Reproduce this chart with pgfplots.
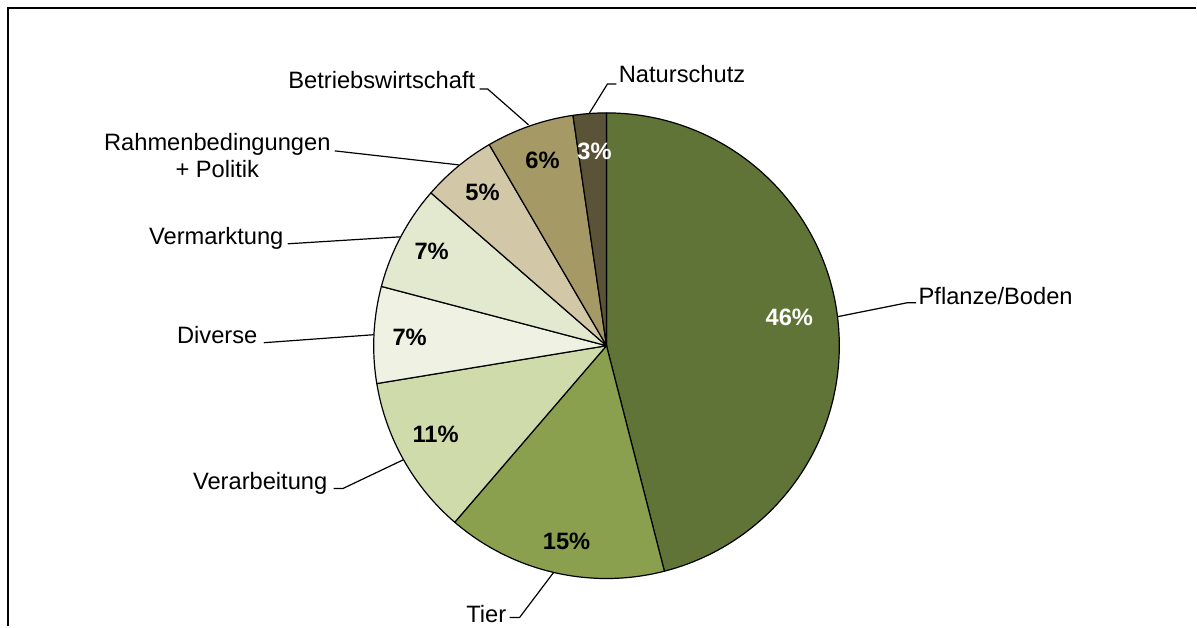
\documentclass[border=0pt]{standalone}
\usepackage{pgfplots}
\pgfplotsset{compat=1.18}
\usepackage{pgfplotstable}
\usepackage{fontspec}
\setmainfont{Liberation Sans}

\definecolor{slice0}{HTML}{5F7436}
\definecolor{slice1}{HTML}{8AA04E}
\definecolor{slice2}{HTML}{CFDBAB}
\definecolor{slice3}{HTML}{EFF1E3}
\definecolor{slice4}{HTML}{E2E9CF}
\definecolor{slice5}{HTML}{D2C8A8}
\definecolor{slice6}{HTML}{A59A66}
\definecolor{slice7}{HTML}{5B5337}

\newcommand\lbl{\fontsize{11.85}{14}\selectfont}
\newcommand\pct{\fontsize{11.85}{14}\selectfont\bfseries}

% category, share in percent (clockwise from 12 o'clock)
\pgfplotstableread{
name value
Pflanze/Boden 46.0
Tier 15.3
Verarbeitung 11.1
Diverse 6.7
Vermarktung 7.3
Rahmenbedingungen 5.2
Betriebswirtschaft 6.1
Naturschutz 2.3
}\piedata

\begin{document}
\begin{tikzpicture}
\pgfplotstablegetrowsof{\piedata}
\pgfmathtruncatemacro\N{\pgfplotsretval-1}
\gdef\cum{0}
\foreach \i in {0,...,\N}{
  \pgfplotstablegetelem{\i}{value}\of\piedata
  \let\v\pgfplotsretval
  \pgfmathsetmacro\sa{90-3.6*\cum}
  \pgfmathsetmacro\newcum{\cum+\v}
  \pgfmathsetmacro\ea{90-3.6*\newcum}
  \expandafter\xdef\csname sa\i\endcsname{\sa}
  \expandafter\xdef\csname ea\i\endcsname{\ea}
  \xdef\cum{\newcum}
}
\begin{axis}[x=0.5pt,y=0.5pt,xmin=0,xmax=1197,ymin=0,ymax=627,
  hide axis,clip=false]
\path (axis cs:0,0) rectangle (axis cs:1197,627);
% frame (top and left edges visible)
\draw[line width=1pt] (axis cs:8,0) -- (axis cs:8,619) -- (axis cs:1197,619);

\pgfplotsforeachungrouped \i in {0,...,7}{
  \edef\temp{\noexpand\filldraw[fill=slice\i,draw=black,line width=0.6pt,line join=round]
    (axis cs:607,281) -- (axis cs:{607+233*cos(\csname sa\i\endcsname)},{281+233*sin(\csname sa\i\endcsname)})
    arc[start angle=\csname sa\i\endcsname, end angle=\csname ea\i\endcsname, radius=116.5pt] -- cycle;}
  \temp
}

% leader lines
\draw[line width=0.6pt] (axis cs:590,514) -- (axis cs:608,543) -- (axis cs:617,543);
\draw[line width=0.6pt] (axis cs:480,538) -- (axis cs:488,538) -- (axis cs:529,502);
\draw[line width=0.6pt] (axis cs:335,476) -- (axis cs:459,462);
\draw[line width=0.6pt] (axis cs:288,383) -- (axis cs:401,390);
\draw[line width=0.6pt] (axis cs:264,284) -- (axis cs:374,292);
\draw[line width=0.6pt] (axis cs:334,138) -- (axis cs:343,138) -- (axis cs:404,167);
\draw[line width=0.6pt] (axis cs:510,9) -- (axis cs:520,9) -- (axis cs:554,54);
\draw[line width=0.6pt] (axis cs:838,310) -- (axis cs:908,324) -- (axis cs:917,324);

% category labels
\node[anchor=base west,font=\lbl,inner sep=0pt] at (axis cs:619,544) {Naturschutz};
\node[anchor=base east,font=\lbl,inner sep=0pt] at (axis cs:476,538) {Betriebswirtschaft};
\node[anchor=base,font=\lbl,inner sep=0pt] at (axis cs:217.5,476) {Rahmenbedingungen};
\node[anchor=base,font=\lbl,inner sep=0pt] at (axis cs:217.5,449) {+ Politik};
\node[anchor=base east,font=\lbl,inner sep=0pt] at (axis cs:284,382) {Vermarktung};
\node[anchor=base east,font=\lbl,inner sep=0pt] at (axis cs:258,283) {Diverse};
\node[anchor=base east,font=\lbl,inner sep=0pt] at (axis cs:328,137) {Verarbeitung};
\node[anchor=base east,font=\lbl,inner sep=0pt] at (axis cs:507,4) {Tier};
\node[anchor=base west,font=\lbl,inner sep=0pt] at (axis cs:919,322) {Pflanze/Boden};

% percentage labels
\node[font=\pct,text=white] at (axis cs:790,309) {46\%};
\node[font=\pct] at (axis cs:567,85) {15\%};
\node[font=\pct] at (axis cs:436,192) {11\%};
\node[font=\pct] at (axis cs:410,289) {7\%};
\node[font=\pct] at (axis cs:432,375) {7\%};
\node[font=\pct] at (axis cs:483,434) {5\%};
\node[font=\pct] at (axis cs:543,467) {6\%};
\node[font=\pct,text=white] at (axis cs:595,476) {3\%};
\end{axis}
\end{tikzpicture}
\end{document}
